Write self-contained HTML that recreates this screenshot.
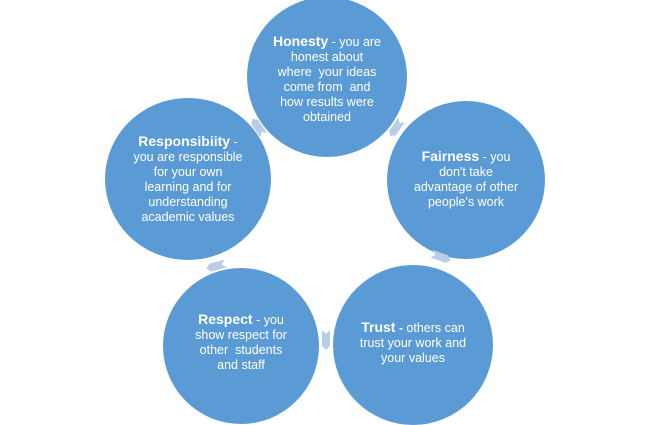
<!DOCTYPE html>
<html><head><style>
body{margin:0;width:648px;height:420px;background:#fff;overflow:hidden;position:relative;font-family:"Liberation Sans",sans-serif;}
.c{position:absolute;border-radius:50%;background:#5b9bd5;}
.t{position:absolute;color:#fff;text-align:center;font-size:12.5px;line-height:15px;width:180px;}
.t b{font-size:14px;}
</style></head><body>
<div class="c" style="left:247px;top:-3px;width:160px;height:160px"></div>
<div class="c" style="left:387px;top:101px;width:158px;height:158px"></div>
<div class="c" style="left:333px;top:265px;width:160px;height:160px"></div>
<div class="c" style="left:163px;top:268px;width:156px;height:156px"></div>
<div class="c" style="left:105px;top:98px;width:166px;height:162px"></div>
<svg width="648" height="420" style="position:absolute;left:0;top:0">
<g fill="#b7cde8">
<polygon points="-10,-4 6,-4 10,0 6,4 -10,4 -6,0" transform="translate(396,128) rotate(125)"/>
<polygon points="-10,-4 6,-4 10,0 6,4 -10,4 -6,0" transform="translate(441,257) rotate(20)"/>
<polygon points="-10,-4 6,-4 10,0 6,4 -10,4 -6,0" transform="translate(326,340) rotate(90)"/>
<polygon points="-10,-4 6,-4 10,0 6,4 -10,4 -6,0" transform="translate(216,266) rotate(165)"/>
<polygon points="-10,-4 6,-4 10,0 6,4 -10,4 -6,0" transform="translate(258,127) rotate(235)"/>
</g></svg>
<div class="t" style="left:237px;top:34px">
<b>Honesty</b> - you are<br>honest about<br>where&nbsp; your ideas<br>come from&nbsp; and<br>how results were<br>obtained</div>
<div class="t" style="left:376px;top:149px">
<b>Fairness</b> - you<br>don't take<br>advantage of other<br>people's work</div>
<div class="t" style="left:323px;top:320px">
<b>Trust</b> <b style="font-size:12px">-</b> others can<br>trust your work and<br>your values</div>
<div class="t" style="left:151px;top:312px">
<b>Respect</b> - you<br>show respect for<br>other&nbsp; students<br>and staff</div>
<div class="t" style="left:98px;top:134px">
<b>Responsibiity</b> -<br>you are responsible<br>for your own<br>learning and for<br>understanding<br>academic values</div>
</body></html>
